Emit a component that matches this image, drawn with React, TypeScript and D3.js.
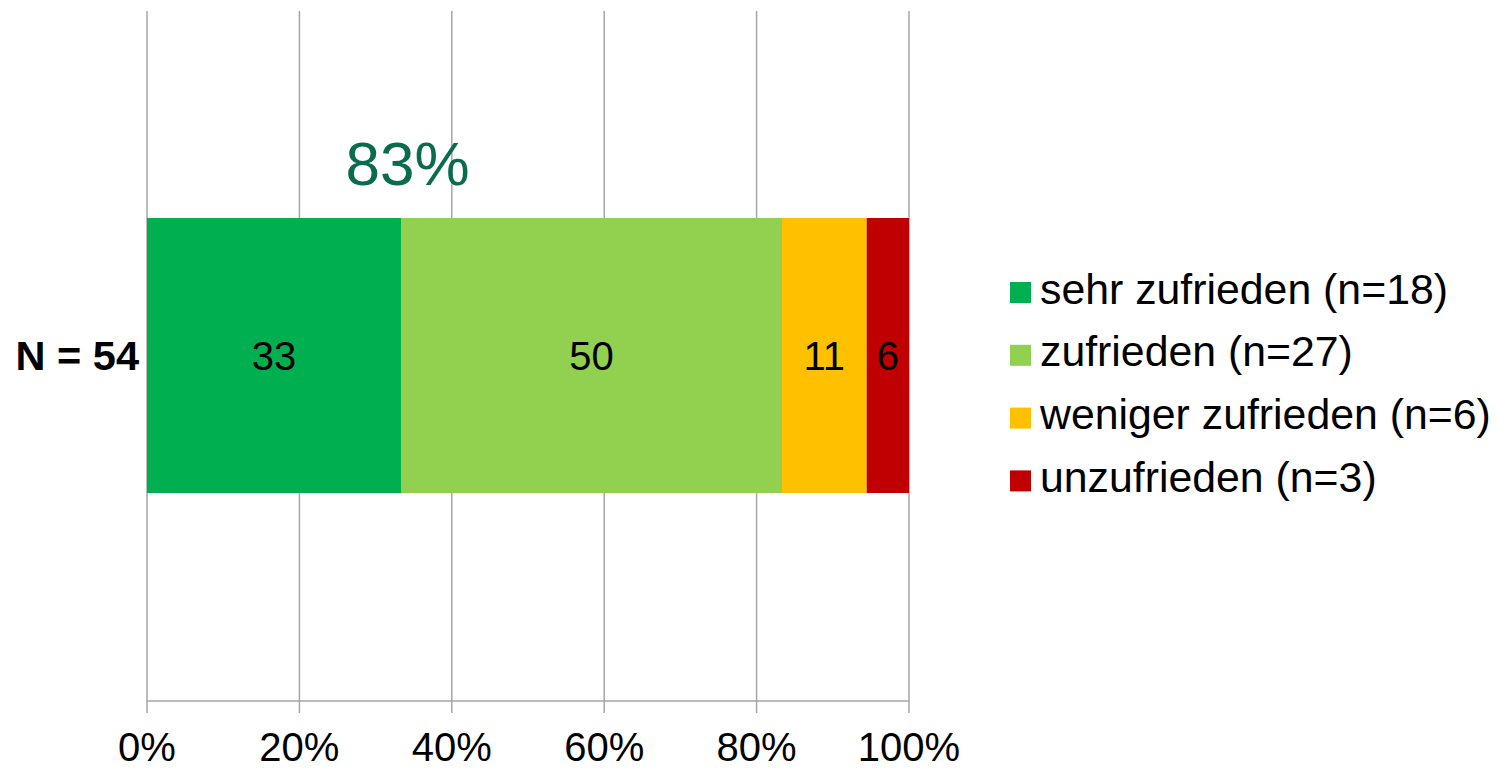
import React from "react";
import * as d3 from "d3";

const categories = ["sehr zufrieden", "zufrieden", "weniger zufrieden", "unzufrieden"];
const counts = [18, 27, 6, 3];
const colors = ["#00B050", "#92D050", "#FFC000", "#C00000"];
const tickValues = [0, 20, 40, 60, 80, 100];
const rowLabel = "N = 54";
const satisfiedLabel = "83%";

const W = 1497;
const H = 770;

export default function App() {
  const total = d3.sum(counts);
  const x = d3.scaleLinear().domain([0, 100]).range([147, 909]);
  const barTop = 218;
  const barBottom = 493;
  const stackData = [
    Object.fromEntries(categories.map((c, i) => [c, (counts[i] / total) * 100])),
  ];
  const series = d3.stack<any>().keys(categories)(stackData as any);
  const font = "'Liberation Sans', Arial, sans-serif";
  const barMid = (barTop + barBottom) / 2;

  return (
    <svg
      width={W}
      height={H}
      style={{ position: "absolute", left: 0, top: 0, background: "#fff" }}
      fontFamily={font}
    >
      {tickValues.map((t) => (
        <line
          key={"g" + t}
          x1={x(t)}
          x2={x(t)}
          y1={11}
          y2={713}
          stroke="#A6A6A6"
          strokeWidth={1.5}
        />
      ))}
      <line x1={x(0)} x2={x(100)} y1={701} y2={701} stroke="#A6A6A6" strokeWidth={1.5} />
      {series.map((s, i) => {
        const [a, b] = s[0];
        return (
          <g key={categories[i]}>
            <rect
              x={x(a)}
              y={barTop}
              width={x(b) - x(a)}
              height={barBottom - barTop}
              fill={colors[i]}
            />
            <text
              x={(x(a) + x(b)) / 2}
              y={barMid + 14}
              textAnchor="middle"
              fontSize={40}
              fill="#000"
            >
              {Math.round((counts[i] / total) * 100)}
            </text>
          </g>
        );
      })}
      <text x={x(34.2)} y={185} textAnchor="middle" fontSize={62} fill="#0B6B4F">
        {satisfiedLabel}
      </text>
      <text x={139} y={barMid + 14} textAnchor="end" fontSize={41.5} fontWeight="bold" fill="#000">
        {rowLabel}
      </text>
      {tickValues.map((t) => (
        <text key={"t" + t} x={x(t)} y={761} textAnchor="middle" fontSize={40} fill="#000">
          {t}%
        </text>
      ))}
      {categories.map((c, i) => {
        const cy = 292.5 + i * 62.8;
        return (
          <g key={"l" + c}>
            <rect x={1010} y={cy - 10.5} width={21} height={21} fill={colors[i]} />
            <text x={1040} y={cy + 11} fontSize={42.8} fill="#000">
              {`${c} (n=${counts[i]})`}
            </text>
          </g>
        );
      })}
    </svg>
  );
}
